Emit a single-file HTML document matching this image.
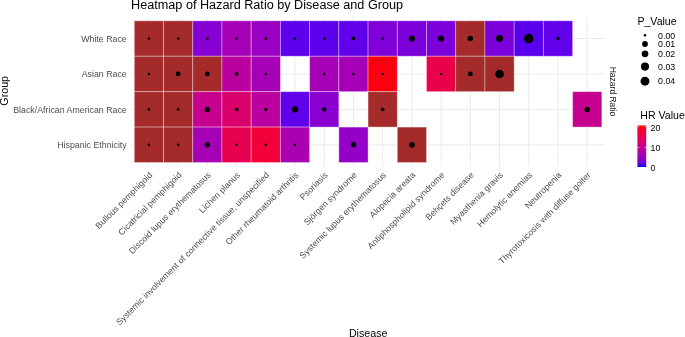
<!DOCTYPE html><html><head><meta charset="utf-8"><style>
html,body{margin:0;padding:0;background:#fff;}
body{width:685px;height:337px;overflow:hidden;}
svg{display:block;will-change:transform;font-family:"Liberation Sans",sans-serif;}
</style></head><body>
<svg width="685" height="337" viewBox="0 0 685 337">
<g stroke="#ebebeb" stroke-width="1"><line x1="148.91" y1="17.0" x2="148.91" y2="166.0"/><line x1="178.13" y1="17.0" x2="178.13" y2="166.0"/><line x1="207.35" y1="17.0" x2="207.35" y2="166.0"/><line x1="236.57" y1="17.0" x2="236.57" y2="166.0"/><line x1="265.79" y1="17.0" x2="265.79" y2="166.0"/><line x1="295.01" y1="17.0" x2="295.01" y2="166.0"/><line x1="324.23" y1="17.0" x2="324.23" y2="166.0"/><line x1="353.45" y1="17.0" x2="353.45" y2="166.0"/><line x1="382.67" y1="17.0" x2="382.67" y2="166.0"/><line x1="411.89" y1="17.0" x2="411.89" y2="166.0"/><line x1="441.11" y1="17.0" x2="441.11" y2="166.0"/><line x1="470.33" y1="17.0" x2="470.33" y2="166.0"/><line x1="499.55" y1="17.0" x2="499.55" y2="166.0"/><line x1="528.77" y1="17.0" x2="528.77" y2="166.0"/><line x1="557.99" y1="17.0" x2="557.99" y2="166.0"/><line x1="587.21" y1="17.0" x2="587.21" y2="166.0"/><line x1="131.0" y1="38.52" x2="604.5" y2="38.52"/><line x1="131.0" y1="73.94" x2="604.5" y2="73.94"/><line x1="131.0" y1="109.38" x2="604.5" y2="109.38"/><line x1="131.0" y1="144.81" x2="604.5" y2="144.81"/></g>
<g stroke="rgba(255,255,255,0.38)" stroke-width="0.9"><rect x="134.30" y="20.80" width="29.22" height="35.43" fill="#a52a2a"/><rect x="163.52" y="20.80" width="29.22" height="35.43" fill="#a52a2a"/><rect x="192.74" y="20.80" width="29.22" height="35.43" fill="#8700d3"/><rect x="221.96" y="20.80" width="29.22" height="35.43" fill="#a600b7"/><rect x="251.18" y="20.80" width="29.22" height="35.43" fill="#9a00c3"/><rect x="280.40" y="20.80" width="29.22" height="35.43" fill="#5e00eb"/><rect x="309.62" y="20.80" width="29.22" height="35.43" fill="#5e00eb"/><rect x="338.84" y="20.80" width="29.22" height="35.43" fill="#6100ea"/><rect x="368.06" y="20.80" width="29.22" height="35.43" fill="#8000d8"/><rect x="397.28" y="20.80" width="29.22" height="35.43" fill="#7c00da"/><rect x="426.50" y="20.80" width="29.22" height="35.43" fill="#7c00da"/><rect x="455.72" y="20.80" width="29.22" height="35.43" fill="#a52a2a"/><rect x="484.94" y="20.80" width="29.22" height="35.43" fill="#7c00da"/><rect x="514.16" y="20.80" width="29.22" height="35.43" fill="#5b00ed"/><rect x="543.38" y="20.80" width="29.22" height="35.43" fill="#6100ea"/><rect x="134.30" y="56.23" width="29.22" height="35.43" fill="#a52a2a"/><rect x="163.52" y="56.23" width="29.22" height="35.43" fill="#a52a2a"/><rect x="192.74" y="56.23" width="29.22" height="35.43" fill="#a52a2a"/><rect x="221.96" y="56.23" width="29.22" height="35.43" fill="#ba009f"/><rect x="251.18" y="56.23" width="29.22" height="35.43" fill="#a600b7"/><rect x="309.62" y="56.23" width="29.22" height="35.43" fill="#a600b7"/><rect x="338.84" y="56.23" width="29.22" height="35.43" fill="#a600b7"/><rect x="368.06" y="56.23" width="29.22" height="35.43" fill="#fd000f"/><rect x="426.50" y="56.23" width="29.22" height="35.43" fill="#eb004a"/><rect x="455.72" y="56.23" width="29.22" height="35.43" fill="#a52a2a"/><rect x="484.94" y="56.23" width="29.22" height="35.43" fill="#a52a2a"/><rect x="134.30" y="91.66" width="29.22" height="35.43" fill="#a52a2a"/><rect x="163.52" y="91.66" width="29.22" height="35.43" fill="#a52a2a"/><rect x="192.74" y="91.66" width="29.22" height="35.43" fill="#c6008e"/><rect x="221.96" y="91.66" width="29.22" height="35.43" fill="#da006c"/><rect x="251.18" y="91.66" width="29.22" height="35.43" fill="#ba009f"/><rect x="280.40" y="91.66" width="29.22" height="35.43" fill="#6100ea"/><rect x="309.62" y="91.66" width="29.22" height="35.43" fill="#8a00d1"/><rect x="368.06" y="91.66" width="29.22" height="35.43" fill="#a52a2a"/><rect x="572.60" y="91.66" width="29.22" height="35.43" fill="#c6008e"/><rect x="134.30" y="127.09" width="29.22" height="35.43" fill="#a52a2a"/><rect x="163.52" y="127.09" width="29.22" height="35.43" fill="#a52a2a"/><rect x="192.74" y="127.09" width="29.22" height="35.43" fill="#a600b7"/><rect x="221.96" y="127.09" width="29.22" height="35.43" fill="#e80050"/><rect x="251.18" y="127.09" width="29.22" height="35.43" fill="#f20037"/><rect x="280.40" y="127.09" width="29.22" height="35.43" fill="#ab00b1"/><rect x="338.84" y="127.09" width="29.22" height="35.43" fill="#9400c8"/><rect x="397.28" y="127.09" width="29.22" height="35.43" fill="#a52a2a"/></g>
<g fill="#000"><circle cx="148.91" cy="38.52" r="1.30"/><circle cx="178.13" cy="38.52" r="1.30"/><circle cx="207.35" cy="38.52" r="1.30"/><circle cx="236.57" cy="38.52" r="1.30"/><circle cx="265.79" cy="38.52" r="1.30"/><circle cx="295.01" cy="38.52" r="1.30"/><circle cx="324.23" cy="38.52" r="1.30"/><circle cx="353.45" cy="38.52" r="1.90"/><circle cx="382.67" cy="38.52" r="1.30"/><circle cx="411.89" cy="38.52" r="3.10"/><circle cx="441.11" cy="38.52" r="3.10"/><circle cx="470.33" cy="38.52" r="2.75"/><circle cx="499.55" cy="38.52" r="3.45"/><circle cx="528.77" cy="38.52" r="4.75"/><circle cx="557.99" cy="38.52" r="1.70"/><circle cx="148.91" cy="73.94" r="1.30"/><circle cx="178.13" cy="73.94" r="2.40"/><circle cx="207.35" cy="73.94" r="2.40"/><circle cx="236.57" cy="73.94" r="1.90"/><circle cx="265.79" cy="73.94" r="1.30"/><circle cx="324.23" cy="73.94" r="1.30"/><circle cx="353.45" cy="73.94" r="1.30"/><circle cx="382.67" cy="73.94" r="1.30"/><circle cx="441.11" cy="73.94" r="1.20"/><circle cx="470.33" cy="73.94" r="2.40"/><circle cx="499.55" cy="73.94" r="4.30"/><circle cx="148.91" cy="109.38" r="1.30"/><circle cx="178.13" cy="109.38" r="1.30"/><circle cx="207.35" cy="109.38" r="2.60"/><circle cx="236.57" cy="109.38" r="1.90"/><circle cx="265.79" cy="109.38" r="1.60"/><circle cx="295.01" cy="109.38" r="3.10"/><circle cx="324.23" cy="109.38" r="2.20"/><circle cx="382.67" cy="109.38" r="1.80"/><circle cx="587.21" cy="109.38" r="2.75"/><circle cx="148.91" cy="144.81" r="1.30"/><circle cx="178.13" cy="144.81" r="1.30"/><circle cx="207.35" cy="144.81" r="2.60"/><circle cx="236.57" cy="144.81" r="1.30"/><circle cx="265.79" cy="144.81" r="1.30"/><circle cx="295.01" cy="144.81" r="1.20"/><circle cx="353.45" cy="144.81" r="2.75"/><circle cx="411.89" cy="144.81" r="2.90"/></g>
<text x="131.1" y="8.9" font-size="12.65" fill="#000">Heatmap of Hazard Ratio by Disease and Group</text>
<g font-size="8.8" fill="#4d4d4d"><text x="126.7" y="41.66" text-anchor="end">White Race</text><text x="126.7" y="77.09" text-anchor="end">Asian Race</text><text x="126.7" y="112.53" text-anchor="end">Black/African American Race</text><text x="126.7" y="147.96" text-anchor="end">Hispanic Ethnicity</text></g>
<g font-size="8.72" fill="#4d4d4d"><text transform="translate(152.91,175.60) rotate(-45)" text-anchor="end">Bullous pemphigoid</text><text transform="translate(182.13,175.60) rotate(-45)" text-anchor="end">Cicatricial pemphigoid</text><text transform="translate(211.35,175.60) rotate(-45)" text-anchor="end">Discoid lupus erythematosus</text><text transform="translate(240.57,175.60) rotate(-45)" text-anchor="end">Lichen planus</text><text transform="translate(269.79,175.60) rotate(-45)" text-anchor="end">Systemic involvement of connective tissue, unspecified</text><text transform="translate(299.01,175.60) rotate(-45)" text-anchor="end">Other rheumatoid arthritis</text><text transform="translate(328.23,175.60) rotate(-45)" text-anchor="end">Psoriasis</text><text transform="translate(357.45,175.60) rotate(-45)" text-anchor="end">Sjörgen syndrome</text><text transform="translate(386.67,175.60) rotate(-45)" text-anchor="end">Systemic lupus erythematosus</text><text transform="translate(415.89,175.60) rotate(-45)" text-anchor="end">Alopecia areata</text><text transform="translate(445.11,175.60) rotate(-45)" text-anchor="end">Antiphospholipid syndrome</text><text transform="translate(474.33,175.60) rotate(-45)" text-anchor="end">Behçets disease</text><text transform="translate(503.55,175.60) rotate(-45)" text-anchor="end">Myasthenia gravis</text><text transform="translate(532.77,175.60) rotate(-45)" text-anchor="end">Hemolytic anemias</text><text transform="translate(561.99,175.60) rotate(-45)" text-anchor="end">Neutropenia</text><text transform="translate(591.21,175.60) rotate(-45)" text-anchor="end">Thyrotoxicosis with diffuse goiter</text></g>
<text x="368.2" y="336.5" font-size="10.7" text-anchor="middle" fill="#000">Disease</text>
<text transform="translate(8.0,90.8) rotate(-90)" font-size="10.7" text-anchor="middle" fill="#000">Group</text>
<text transform="translate(610,91.5) rotate(90)" font-size="8.5" text-anchor="middle" fill="#1a1a1a">Hazard Ratio</text>
<text x="637.4" y="24.7" font-size="10.6" fill="#000">P_Value</text>
<circle cx="645.0" cy="35.3" r="1.25" fill="#000"/><text x="658.1" y="38.5" font-size="8.8" fill="#000">0.00</text>
<circle cx="645.0" cy="44.0" r="2.9" fill="#000"/><text x="658.1" y="47.2" font-size="8.8" fill="#000">0.01</text>
<circle cx="645.0" cy="53.8" r="3.35" fill="#000"/><text x="658.1" y="57.0" font-size="8.8" fill="#000">0.02</text>
<circle cx="645.0" cy="66.6" r="4.05" fill="#000"/><text x="658.1" y="69.8" font-size="8.8" fill="#000">0.03</text>
<circle cx="645.0" cy="81.2" r="4.45" fill="#000"/><text x="658.1" y="84.4" font-size="8.8" fill="#000">0.04</text>
<text x="640.3" y="118.9" font-size="10.6" fill="#000">HR Value</text>
<defs><linearGradient id="hr" x1="0" y1="0" x2="0" y2="1"><stop offset="0.00" stop-color="#ff0000"/><stop offset="0.05" stop-color="#fb001a"/><stop offset="0.10" stop-color="#f6002a"/><stop offset="0.15" stop-color="#f20037"/><stop offset="0.20" stop-color="#ed0044"/><stop offset="0.25" stop-color="#e80050"/><stop offset="0.30" stop-color="#e3005b"/><stop offset="0.35" stop-color="#dd0066"/><stop offset="0.40" stop-color="#d70072"/><stop offset="0.45" stop-color="#d1007d"/><stop offset="0.50" stop-color="#ca0088"/><stop offset="0.55" stop-color="#c20094"/><stop offset="0.60" stop-color="#ba009f"/><stop offset="0.65" stop-color="#b000ab"/><stop offset="0.70" stop-color="#a600b7"/><stop offset="0.75" stop-color="#9a00c3"/><stop offset="0.80" stop-color="#8d00ce"/><stop offset="0.85" stop-color="#7c00da"/><stop offset="0.90" stop-color="#6800e7"/><stop offset="0.95" stop-color="#4b00f3"/><stop offset="1.00" stop-color="#0000ff"/></linearGradient></defs><rect x="637.4" y="125.4" width="8.8" height="41.6" fill="url(#hr)"/><g stroke="#fff" stroke-width="0.6"><line x1="637.4" y1="126.5" x2="639.2" y2="126.5"/><line x1="644.4" y1="126.5" x2="646.2" y2="126.5"/><line x1="637.4" y1="147.5" x2="639.2" y2="147.5"/><line x1="644.4" y1="147.5" x2="646.2" y2="147.5"/></g><text x="650.5" y="131.0" font-size="8.8" fill="#000">20</text>
<text x="650.5" y="150.8" font-size="8.8" fill="#000">10</text>
<text x="650.5" y="170.7" font-size="8.8" fill="#000">0</text>
</svg></body></html>
